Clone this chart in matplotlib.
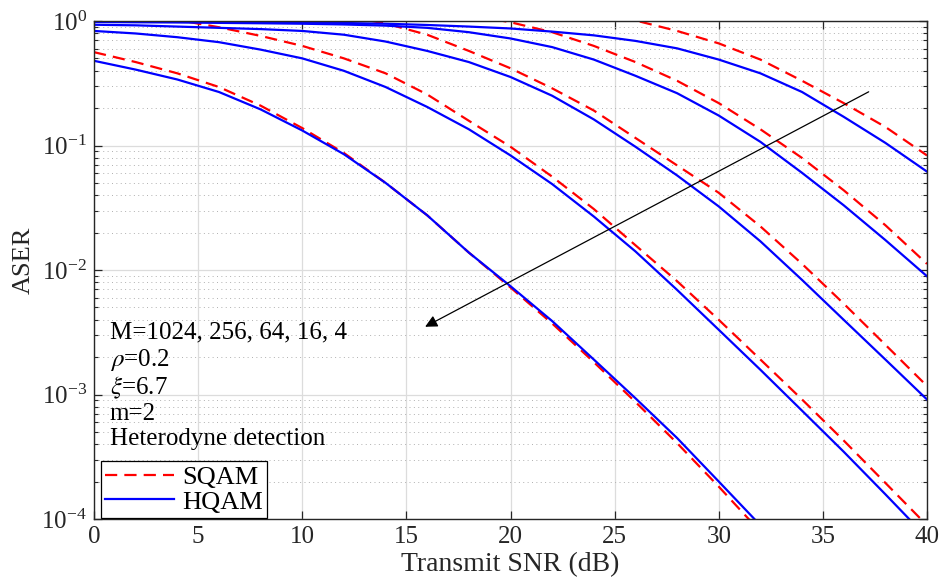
import numpy as np
import matplotlib
matplotlib.use("Agg")
import matplotlib.pyplot as plt
from matplotlib.ticker import LogLocator, MultipleLocator, NullFormatter

plt.rcParams['font.family'] = ['Liberation Serif', 'DejaVu Serif']
plt.rcParams['mathtext.fontset'] = 'stix'

# transmit SNR grid (dB)
snr = [0, 2, 4, 6, 8, 10, 12, 14, 16, 18, 20, 22, 24, 26, 28, 30, 32, 34, 36, 38, 40]

# ASER, square QAM (dashed)
sqam_4 = [0.562, 0.468, 0.380, 0.295, 0.209, 0.138, 0.0871, 0.0501, 0.0275, 0.0138,
          7.24e-3, 3.72e-3, 1.82e-3, 8.71e-4, 4.07e-4, 1.82e-4, 7.9e-5]
sqam_16 = [1.32, 1.17, 1.02, 0.891, 0.759, 0.631, 0.501, 0.380, 0.257, 0.158, 0.0977,
           0.0562, 0.0309, 0.0158, 8.13e-3, 3.98e-3, 1.91e-3, 9.12e-4, 4.27e-4, 1.95e-4, 8.9e-5]
sqam_64 = [2.00, 1.86, 1.74, 1.58, 1.41, 1.26, 1.10, 0.955, 0.776, 0.575, 0.417,
           0.288, 0.191, 0.115, 0.0692, 0.0417, 0.0224, 0.0112, 5.37e-3, 2.51e-3, 1.17e-3]
sqam_256 = [2.82, 2.63, 2.45, 2.24, 2.04, 1.86, 1.66, 1.48, 1.29, 1.12, 0.977,
            0.813, 0.631, 0.468, 0.331, 0.219, 0.135, 0.0794, 0.0437, 0.0229, 0.0112]
sqam_1024 = [3.98, 3.72, 3.47, 3.24, 3.02, 2.75, 2.51, 2.29, 2.04, 1.82, 1.58,
             1.38, 1.17, 1.01, 0.832, 0.661, 0.490, 0.331, 0.219, 0.141, 0.0832]

# ASER, hexagonal QAM (solid)
hqam_4 = [0.479, 0.407, 0.339, 0.269, 0.195, 0.132, 0.0851, 0.0501, 0.0275, 0.0138,
          7.41e-3, 3.89e-3, 1.91e-3, 9.33e-4, 4.47e-4, 2.00e-4, 8.9e-5]
hqam_16 = [0.832, 0.794, 0.741, 0.676, 0.589, 0.501, 0.398, 0.295, 0.204, 0.135, 0.0832,
           0.0490, 0.0269, 0.0141, 6.92e-3, 3.31e-3, 1.58e-3, 7.41e-4, 3.47e-4, 1.58e-4, 7.1e-5]
hqam_64 = [0.933, 0.923, 0.902, 0.881, 0.861, 0.832, 0.776, 0.684, 0.575, 0.468, 0.355,
           0.251, 0.162, 0.0977, 0.0575, 0.0324, 0.0170, 8.32e-3, 3.98e-3, 1.91e-3, 9.12e-4]
hqam_256 = [0.982, 0.977, 0.973, 0.966, 0.959, 0.951, 0.938, 0.918, 0.881, 0.813, 0.724,
            0.617, 0.490, 0.363, 0.263, 0.174, 0.107, 0.0603, 0.0331, 0.0174, 8.91e-3]
hqam_1024 = [0.991, 0.989, 0.986, 0.982, 0.977, 0.973, 0.964, 0.951, 0.929, 0.902, 0.871,
             0.822, 0.767, 0.692, 0.603, 0.490, 0.380, 0.269, 0.170, 0.105, 0.0617]

sqam_curves = [sqam_1024, sqam_256, sqam_64, sqam_16, sqam_4]
hqam_curves = [hqam_1024, hqam_256, hqam_64, hqam_16, hqam_4]

info_lines = ['M=1024, 256, 64, 16, 4', r'$\rho$=0.2', r'$\xi$=6.7', 'm=2', 'Heterodyne detection']

axis_col = '#262626'

fig = plt.figure(figsize=(9.44, 5.78), dpi=100)
ax = fig.add_axes([94 / 944, 1 - 519 / 578, 833 / 944, 498 / 578])

for i, y in enumerate(sqam_curves):
    ax.plot(snr[:len(y)], y, color='#ff0000', lw=1.6, dashes=(5.5, 3.2),
            label='SQAM' if i == 0 else None)
for i, y in enumerate(hqam_curves):
    ax.plot(snr[:len(y)], y, color='#0000ff', lw=1.6,
            label='HQAM' if i == 0 else None)

ax.set_yscale('log')
ax.set_xlim(0, 40)
ax.set_ylim(1e-4, 1)
ax.xaxis.set_major_locator(MultipleLocator(5))
ax.yaxis.set_major_locator(LogLocator(base=10, numticks=10))
ax.yaxis.set_minor_locator(LogLocator(base=10, subs=np.arange(2, 10), numticks=10))
ax.yaxis.set_minor_formatter(NullFormatter())

ax.grid(True, which='major', color='#dcdcdc', lw=0.9, ls='-')
ax.grid(True, which='minor', axis='y', color='#b0b0b0', lw=0.7, ls=(0, (1, 3.5)))
ax.set_axisbelow(True)

ax.tick_params(which='both', direction='in', top=True, right=True, colors=axis_col,
               labelsize=18)
ax.tick_params(which='major', length=5.5, width=0.9)
ax.tick_params(which='minor', length=3.2, width=0.8)
ax.tick_params(axis='x', pad=5)
ax.tick_params(axis='y', pad=5)
for s in ax.spines.values():
    s.set_color(axis_col)
    s.set_linewidth(1.0)

ax.set_xlabel('Transmit SNR (dB)', fontsize=20, color=axis_col)
ax.set_ylabel('ASER', fontsize=19, color=axis_col)
ax.xaxis.set_label_coords(0.5, -0.066)
ax.yaxis.set_label_coords(-0.071, 0.52)

# arrow pointing through the curve family, toward smaller M
ax.annotate('', xy=(15.9, 3.5e-3), xytext=(37.2, 0.27),
            arrowprops=dict(arrowstyle='-|>', color='black', lw=0.9,
                            mutation_scale=18, shrinkA=0, shrinkB=0))

ys = [0.363, 0.307, 0.250, 0.198, 0.149]
for txt, yy in zip(info_lines, ys):
    ax.text(0.019, yy, txt, transform=ax.transAxes, fontsize=18, va='baseline',
            ha='left', color='black')

leg = ax.legend(loc='lower left', bbox_to_anchor=(0.009, 0.003), borderaxespad=0,
                fontsize=19, handlelength=2.6, handletextpad=0.3, borderpad=0.15,
                labelspacing=0.05, fancybox=False, framealpha=1, edgecolor='black')
leg.get_frame().set_linewidth(0.9)

fig.savefig('out.png', dpi=100)
